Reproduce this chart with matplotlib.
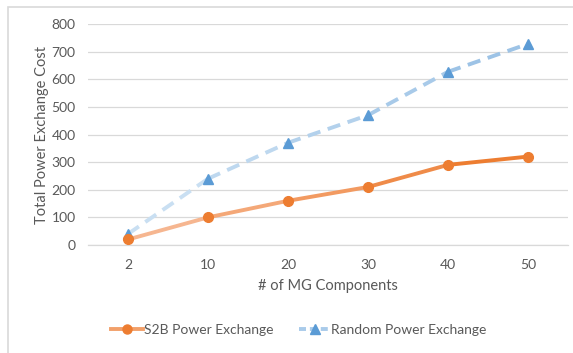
import matplotlib
matplotlib.use("Agg")
import matplotlib.pyplot as plt
import numpy as np
from matplotlib.collections import LineCollection
from matplotlib.colors import to_rgb
from matplotlib.lines import Line2D
from matplotlib.patches import Rectangle

plt.rcParams['font.family'] = ['Lato', 'DejaVu Sans']

categories = ['2', '10', '20', '30', '40', '50']
s2b_cost = [20, 100, 160, 210, 290, 320]
random_cost = [40, 240, 370, 470, 627, 728]
y_ticks = [0, 100, 200, 300, 400, 500, 600, 700, 800]

text_col = '#595959'
grid_col = '#D9D9D9'


def blend(c1, c2, n):
    a = np.array(to_rgb(c1))
    b = np.array(to_rgb(c2))
    return [tuple(a + (b - a) * t) for t in np.linspace(0, 1, n)]


def gradient_line(ax, x, y, c_start, c_end, lw, ls):
    pts = np.column_stack([x, y])
    segs = [pts[i:i + 2] for i in range(len(pts) - 1)]
    lc = LineCollection(segs, colors=blend(c_start, c_end, len(segs)),
                        linewidths=lw, linestyles=ls, capstyle='butt', zorder=2)
    ax.add_collection(lc)


fig = plt.figure(figsize=(5.73, 3.53), dpi=100)
ax = fig.add_axes([88 / 573, 108 / 353, 480 / 573, 221 / 353])

x = np.arange(len(categories))

gradient_line(ax, x, random_cost, '#C9DFF2', '#9DC3E6', 2.8, (0, (3.4, 2.0)))
gradient_line(ax, x, s2b_cost, '#F6B690', '#ED7D31', 2.8, 'solid')
ax.plot(x, random_cost, linestyle='none', marker='^', markersize=7,
        color='#5B9BD5', zorder=3)
ax.plot(x, s2b_cost, linestyle='none', marker='o', markersize=7,
        color='#ED7D31', zorder=4)

ax.set_xlim(-0.5, len(categories) - 0.5)
ax.set_ylim(0, 800)
ax.set_xticks(x)
ax.set_xticklabels(categories)
ax.set_yticks(y_ticks)
ax.tick_params(axis='both', length=0, labelsize=10, labelcolor=text_col)
ax.tick_params(axis='x', pad=10)
ax.tick_params(axis='y', pad=9)
ax.grid(axis='y', color=grid_col, linewidth=0.9)
ax.set_axisbelow(True)
for s in ['top', 'right', 'left']:
    ax.spines[s].set_visible(False)
ax.spines['bottom'].set_color(grid_col)
ax.spines['bottom'].set_linewidth(0.9)

ax.set_xlabel('# of MG Components', fontsize=10.5, color=text_col, labelpad=6)
fig.text(42 / 573, 1 - 135 / 353, 'Total Power Exchange Cost', rotation=90,
         ha='center', va='center', fontsize=10.5, color=text_col)

handles = [
    Line2D([], [], color='#F2A06A', lw=2.8, marker='o', markersize=6.5,
           markerfacecolor='#ED7D31', markeredgecolor='#ED7D31'),
    Line2D([], [], color='#A9CBEA', lw=2.8, linestyle=(0, (1.8, 1.0)), marker='^',
           markersize=6.5, markerfacecolor='#5B9BD5', markeredgecolor='#5B9BD5'),
]
fig.legend(handles, ['S2B Power Exchange', 'Random Power Exchange'],
           loc='center', bbox_to_anchor=(299 / 573, 1 - 330 / 353),
           ncol=2, frameon=False, fontsize=10, labelcolor=text_col,
           handlelength=2.3, handletextpad=0.05, columnspacing=1.8)

fig.patches.append(Rectangle((8 / 573, -0.1), 1.2, (346 / 353) + 0.1,
                             transform=fig.transFigure, fill=False,
                             edgecolor=grid_col, linewidth=1.2))

fig.savefig('out.png', dpi=100)
